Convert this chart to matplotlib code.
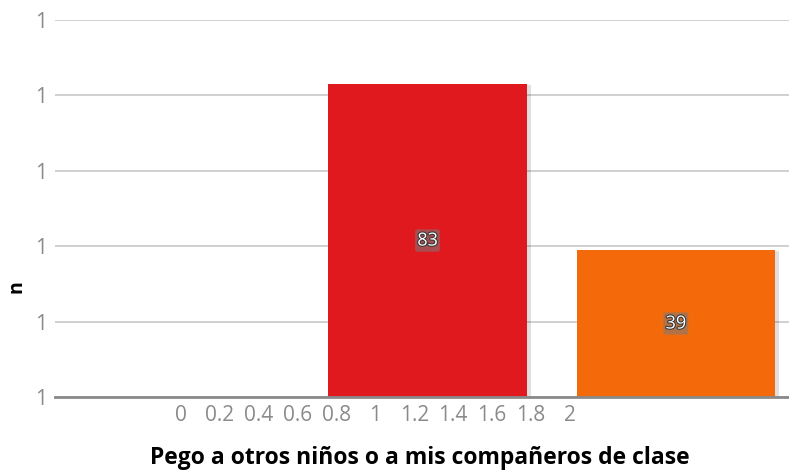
import matplotlib
matplotlib.use("Agg")
import matplotlib.pyplot as plt
import matplotlib.patheffects as pe

# data
categories = [0, 1, 2]
counts = [0, 83, 39]
colors = ['#E0191E', '#E0191E', '#F46A0A']
ytick_vals = [0, 20, 40, 60, 80, 100]
ytick_labels = ['1'] * 6
xtick_vals = [0, 0.2, 0.4, 0.6, 0.8, 1, 1.2, 1.4, 1.6, 1.8, 2]
xtick_labels = ['0', '0.2', '0.4', '0.6', '0.8', '1', '1.2', '1.4', '1.6', '1.8', '2']
xlabel = 'Pego a otros niños o a mis compañeros de clase'
ylabel = 'n'

plt.rcParams['font.family'] = ['Open Sans', 'DejaVu Sans']

fig = plt.figure(figsize=(7.89, 4.74), dpi=100)
ax = fig.add_axes([55 / 789, 77 / 474, 745 / 789, 377 / 474])

shadow = pe.SimplePatchShadow(offset=(3, -1), shadow_rgbFace='black', alpha=0.12)
bars = ax.bar(categories[1:], counts[1:], width=0.8, color=colors[1:], zorder=3,
              path_effects=[shadow, pe.Normal()])
for b, v in zip(bars, counts[1:]):
    ax.text(b.get_x() + b.get_width() / 2, v / 2, str(v), ha='center', va='center',
            color='white', fontsize=13, zorder=5,
            bbox=dict(boxstyle='round,pad=0.12', facecolor='#7a7a7a', edgecolor='none', alpha=0.55),
            path_effects=[pe.withStroke(linewidth=1.5, foreground='#333333')])

ax.set_xlim(-0.5, 2.5)
ax.set_ylim(0, 100)
ax.set_yticks(ytick_vals)
ax.set_yticklabels(ytick_labels)
ax.grid(axis='y', color='#c8c8c8', linewidth=1.2, zorder=0)
ax.tick_params(axis='y', length=0, pad=6, labelcolor='#8a8a8a', labelsize=15)
ax.set_xticks([])
for s in ['top', 'right', 'left']:
    ax.spines[s].set_visible(False)
ax.spines['bottom'].set_color('#8a8a8a')
ax.spines['bottom'].set_linewidth(2)
ax.spines['bottom'].set_zorder(4)
ax.set_ylabel(ylabel, fontsize=14, fontweight='bold')
ax.yaxis.set_label_coords(-0.052, 0.292)
ax.yaxis.label.set_va('center')

# separate scale for the odd bottom labels
ax2 = ax.twiny()
ax2.set_xlim(-0.6475, 3.184)
ax2.xaxis.set_ticks_position('bottom')
ax2.xaxis.set_label_position('bottom')
ax2.set_xticks(xtick_vals)
ax2.set_xticklabels(xtick_labels)
ax2.tick_params(axis='x', length=0, pad=6, labelcolor='#8a8a8a', labelsize=15)
for s in ax2.spines.values():
    s.set_visible(False)
ax2.set_xlabel(xlabel, fontsize=16.5, fontweight='bold')
ax2.xaxis.set_label_coords((420 - 55) / 745, -61 / 377)
ax2.xaxis.label.set_va('center')

fig.savefig('out.png', dpi=100)
